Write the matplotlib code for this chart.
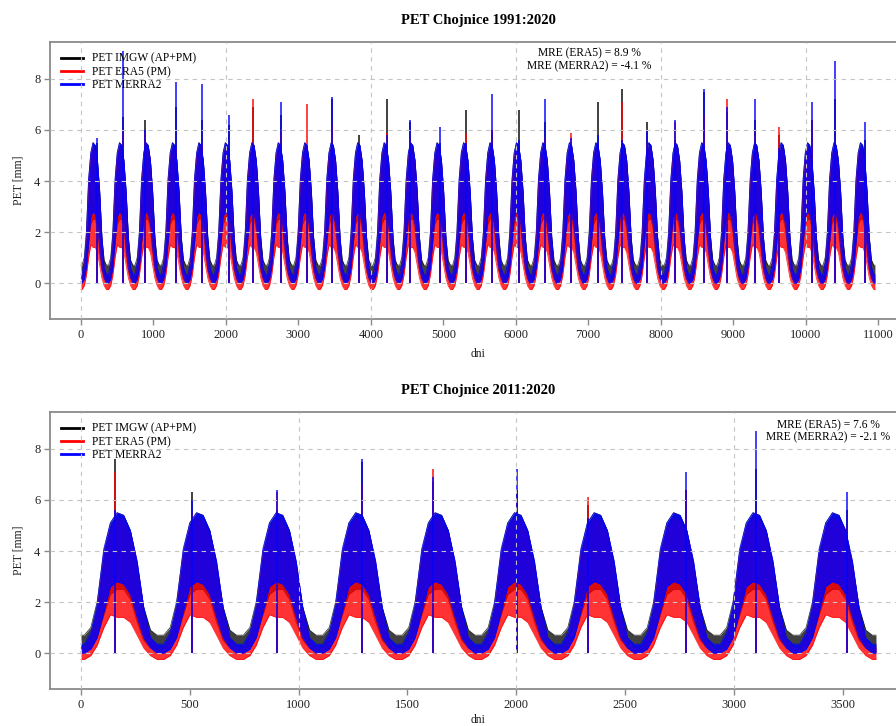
import numpy as np
import pandas as pd
import matplotlib
matplotlib.use('Agg')
import matplotlib.pyplot as plt
from matplotlib.lines import Line2D

plt.rcParams['font.family'] = ['Liberation Serif', 'DejaVu Serif']

# --- data (daily PET, Chojnice) ---
years = list(range(1991, 2021))

# mid-month day of year and the monthly band (low/high) of each series, in mm
month_mid_doy = [15, 45, 74, 105, 135, 166, 196, 227, 258, 288, 319, 349]
imgw_low = [0.05, 0.2, 0.6, 1.5, 2.3, 2.5, 2.5, 2.1, 1.2, 0.5, 0.2, 0.05]
imgw_high = [0.7, 1.0, 2.0, 4.0, 5.1, 5.5, 5.4, 4.8, 3.5, 1.8, 0.9, 0.7]
era5_low = [-0.25, -0.1, 0.3, 1.0, 1.5, 1.4, 1.4, 1.2, 0.7, 0.2, -0.1, -0.25]
era5_high = [0.2, 0.6, 1.6, 3.8, 4.9, 5.3, 5.2, 4.6, 3.3, 1.5, 0.5, 0.2]
merra2_low = [0.0, 0.15, 0.6, 1.6, 2.6, 2.8, 2.7, 2.3, 1.4, 0.6, 0.2, 0.0]
merra2_high = [0.35, 0.8, 1.9, 4.1, 5.1, 5.5, 5.4, 4.8, 3.6, 1.8, 0.6, 0.35]

# annual maximum (day of year of the peak and peak value per series)
peak_doy = [216, 219, 152, 215, 205, 221, 186, 203, 193, 173,
            188, 201, 158, 207, 200, 198, 206, 196, 188, 200,
            156, 145, 169, 195, 157, 177, 138, 223, 180, 232]
imgw_peak = [5.5, 6.5, 6.4, 6.9, 6.4, 6.2, 6.9, 6.6, 5.3, 7.2,
             5.8, 7.2, 6.3, 5.5, 6.8, 6.0, 6.8, 6.3, 5.3, 7.1,
             7.6, 6.3, 5.6, 7.5, 6.7, 6.4, 5.8, 6.4, 7.2, 5.6]
era5_peak = [4.6, 6.0, 5.9, 5.2, 5.5, 4.8, 7.2, 5.9, 7.0, 6.2,
             5.2, 5.9, 5.6, 5.0, 5.9, 6.0, 5.0, 5.7, 5.9, 5.0,
             7.1, 5.5, 6.3, 6.6, 7.2, 6.0, 6.1, 6.4, 5.5, 5.0]
merra2_peak = [5.7, 9.1, 6.0, 7.9, 7.8, 6.6, 5.3, 7.1, 5.2, 7.3,
               5.3, 5.8, 6.4, 6.1, 5.5, 7.4, 5.6, 7.2, 5.7, 5.8,
               5.6, 6.0, 6.4, 7.6, 6.9, 7.2, 5.3, 7.1, 8.7, 6.3]

mre_all = {'ERA5': 8.9, 'MERRA2': -4.1}
mre_last = {'ERA5': 7.6, 'MERRA2': -2.1}

# label, colour, band low, band high, annual peaks, fill alpha
series = [
    ('PET IMGW (AP+PM)', 'black', imgw_low, imgw_high, imgw_peak, 0.75),
    ('PET ERA5 (PM)', 'red', era5_low, era5_high, era5_peak, 0.8),
    ('PET MERRA2', 'blue', merra2_low, merra2_high, merra2_peak, 0.85),
]


def band(y_from, y_to, low, high):
    origin = pd.Timestamp(y_from, 1, 1)
    xs, lo, hi = [0], [low[0]], [high[0]]
    for y in range(y_from, y_to + 1):
        y0 = (pd.Timestamp(y, 1, 1) - origin).days
        for d, l, h in zip(month_mid_doy, low, high):
            xs.append(y0 + d)
            lo.append(l)
            hi.append(h)
    end = (pd.Timestamp(y_to, 12, 31) - origin).days + 1
    xs.append(end)
    lo.append(low[-1])
    hi.append(high[-1])
    return np.array(xs), np.array(lo), np.array(hi)


def spikes(y_from, y_to, peaks):
    origin = pd.Timestamp(y_from, 1, 1)
    xs, vs = [], []
    for y, d, v in zip(years, peak_doy, peaks):
        if y_from <= y <= y_to:
            xs.append((pd.Timestamp(y, 1, 1) - origin).days + d)
            vs.append(v)
    return xs, vs


def draw_panel(ax, y_from, y_to, xlim, xticks, xgrid, title, mre, mre_pos, xlab_y):
    for z, (lab, col, lo_m, hi_m, pk, a) in enumerate(series):
        x, lo, hi = band(y_from, y_to, lo_m, hi_m)
        ax.fill_between(x, lo, hi, color=col, alpha=a, lw=0, zorder=2 + z)
        ax.plot(x, hi, color=col, lw=0.6, alpha=a, zorder=2 + z)
        ax.plot(x, lo, color=col, lw=0.6, alpha=a, zorder=2 + z)
        sx, sv = spikes(y_from, y_to, pk)
        ax.vlines(sx, 0, sv, color=col, lw=1.1, alpha=0.95, zorder=2 + z)

    ax.set_xlim(*xlim)
    ax.set_ylim(-1.41, 9.45)
    ax.set_xticks(xticks)
    ax.set_yticks([0, 2, 4, 6, 8])
    for gx in xgrid:
        ax.axvline(gx, color='#c4c4c4', lw=0.8, ls=(0, (4, 4)), zorder=6)
    for gy in [0, 2, 4, 6, 8]:
        ax.axhline(gy, color='#c4c4c4', lw=0.8, ls=(0, (4, 4)), zorder=6)

    for s in ax.spines.values():
        s.set_color('#8a8a8a')
        s.set_linewidth(1.3)
    ax.tick_params(direction='out', length=4, width=1, color='#8a8a8a',
                   labelsize=9, labelcolor='#222222', pad=3)
    ax.set_title(title, fontsize=10.5, fontweight='bold', pad=13)
    ax.set_xlabel('dni', fontsize=8.5, color='#222222')
    ax.xaxis.set_label_coords(0.5, xlab_y)
    ax.set_ylabel('PET [mm]', fontsize=8.5, color='#222222')
    ax.yaxis.set_label_coords(-0.03, 0.5)

    handles = [Line2D([], [], color=c, lw=2) for _, c, *_ in series]
    ax.legend(handles, [s[0] for s in series], loc='upper left', frameon=False,
              fontsize=8.3, handlelength=1.9, handletextpad=0.8,
              labelspacing=0.12, borderaxespad=0.0,
              bbox_to_anchor=(0.007, 0.978))

    txt = 'MRE (ERA5) = %.1f %%\nMRE (MERRA2) = %.1f %%' % (mre['ERA5'], mre['MERRA2'])
    ax.text(mre_pos[0], mre_pos[1], txt, transform=ax.transAxes, ha='center',
            va='top', fontsize=8.3, linespacing=1.05, multialignment='center',
            zorder=7)


fig = plt.figure(figsize=(8.96, 7.26), dpi=100)
W, H = 896.0, 726.0
ax1 = fig.add_axes([50 / W, 1 - 319 / H, 856 / W, 277 / H])
ax2 = fig.add_axes([50 / W, 1 - 689 / H, 856 / W, 277 / H])

draw_panel(ax1, 1991, 2020, (-428, 11387), range(0, 11001, 1000),
           range(0, 11001, 2000), 'PET Chojnice 1991:2020', mre_all,
           (0.63, 0.98), -0.105)
draw_panel(ax2, 2011, 2020, (-142.5, 3791), range(0, 3501, 500),
           range(0, 3001, 1000), 'PET Chojnice 2011:2020', mre_last,
           (0.909, 0.975), -0.092)

fig.savefig('out.png', dpi=100)
